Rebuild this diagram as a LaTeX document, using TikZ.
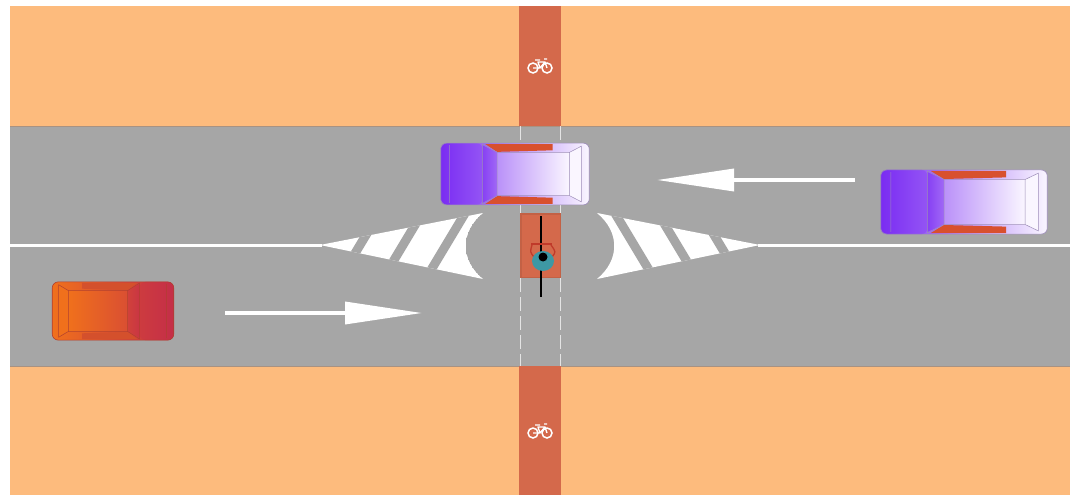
\documentclass[tikz,border=0pt]{standalone}
\usetikzlibrary{arrows.meta}
\definecolor{verge}{HTML}{FDBB7D}
\definecolor{asphalt}{HTML}{A6A6A6}
\definecolor{cyclelane}{HTML}{D4694B}
\definecolor{curbline}{HTML}{A89282}
\definecolor{violetA}{HTML}{7A2CF2}
\definecolor{violetB}{HTML}{FAF6FF}
\definecolor{violetC}{HTML}{D8502E}
\definecolor{violetD}{HTML}{9C8CB8}
\definecolor{redA}{HTML}{C42E48}
\definecolor{redB}{HTML}{F0701C}
\definecolor{redC}{HTML}{D4502C}
\definecolor{redD}{HTML}{B04030}
\definecolor{rider}{HTML}{3E98A4}
\definecolor{riderarm}{HTML}{C03A2A}
\tikzset{
  marking/.style={white, line width=3pt},
  flowarrow/.style={white, line width=3.5pt, -{Triangle[length=77pt,width=22pt]}},
  crossline/.style={white, opacity=.7, line width=0.9pt, dash pattern=on 14pt off 5pt},
  hatchgap/.style={asphalt, line width=9pt},
  carshade/.style={},
  % car seen from above, bonnet towards -x
  pics/car/.style n args={4}{code={
    \shade[left color=#1, right color=#2, carshade, rounded corners=6pt] (-75,-30) rectangle (75,30);
    \shade[left color=#1, right color=#1!80!#2, carshade, rounded corners=6pt] (-75,-30) -- (-33,-30) -- (-33,30) -- (-75,30) -- cycle;
    \shade[left color=#1!90!#2, right color=#1!70!#2, carshade] (-33,-28) -- (-18,-21) -- (-18,21) -- (-33,28) -- cycle;
    \shade[left color=#1!50!#2, right color=#2, carshade] (-18,-21) rectangle (55,21);
    \fill[#3] (-30,-29) -- (38,-29) -- (38,-23) -- (-18,-21.5) -- cycle;
    \fill[#3] (-30,29) -- (38,29) -- (38,23) -- (-18,21.5) -- cycle;
    \fill[#2] (55,-21) -- (67,-27) -- (67,27) -- (55,21) -- cycle;
    \draw[#4, line width=0.6pt, rounded corners=6pt] (-75,-30) rectangle (75,30);
    \draw[#4, line width=0.5pt] (-18,-21) rectangle (55,21)
      (-33,-29) -- (-18,-21) (-33,29) -- (-18,21)
      (-33,-29) -- (-33,29) (-66,-28) -- (-66,28)
      (55,-21) -- (67,-27) -- (67,27) -- (55,21);
  }},
  % white cycle symbol painted on the lane
  pics/bikesign/.style={code={
    \draw[white, line width=1.5pt] (-7,3) circle (5) (7,3) circle (5);
    \draw[white, line width=1.4pt, line join=round]
      (-7,3) -- (0,3) -- (-2,-3) -- (5,-3) -- (7,3)
      (0,3) -- (5,-3) (-5,-5) -- (0,-5) (4,-6) -- (7,-6);
  }}
}
\begin{document}
\begin{tikzpicture}[x=1pt,y=-1pt]
\useasboundingbox (0,0) rectangle (1070,495);
\fill[white] (0,0) rectangle (1070,495);

% verges, carriageway and cycle track
\fill[verge] (10,6) rectangle (1070,495);
\fill[asphalt] (10,126) rectangle (1070,366);
\draw[curbline, line width=1pt] (10,126) -- (1070,126) (10,366) -- (1070,366);
\fill[cyclelane] (519,6) rectangle (561,126);
\fill[cyclelane] (519,366) rectangle (561,495);
\pic at (540,65) {bikesign};
\pic at (540,430) {bikesign};

% crossing edges
\coordinate (xwNW) at (520,126); \coordinate (xwSW) at (520,366);
\coordinate (xwNE) at (560,126); \coordinate (xwSE) at (560,366);
\draw[crossline] (xwNW) -- (xwSW);
\draw[crossline] (xwNE) -- (xwSE);

% centre line
\coordinate (clW) at (10,245); \coordinate (clWend) at (322,245);
\coordinate (clE) at (1070,245); \coordinate (clEend) at (758,245);
\draw[marking] (clW) -- (clWend);
\draw[marking] (clE) -- (clEend);

% hatched refuge islands
\begin{scope}
  \clip (320,245) -- (483,213) .. controls (460,232) and (460,260) .. (483,279) -- cycle;
  \fill[white] (320,245) -- (483,213) .. controls (460,232) and (460,260) .. (483,279) -- cycle;
  \foreach \x in {360,403,446}
    \draw[hatchgap] (\x-30,295) -- (\x+30,195);
\end{scope}
\begin{scope}
  \clip (760,245) -- (597,213) .. controls (620,232) and (620,260) .. (597,279) -- cycle;
  \fill[white] (760,245) -- (597,213) .. controls (620,232) and (620,260) .. (597,279) -- cycle;
  \foreach \x in {720,677,634}
    \draw[hatchgap] (\x-30,195) -- (\x+30,295);
\end{scope}

% cyclist waiting in the middle
\fill[cyclelane!92!black] (520,213) rectangle (561,278);
\fill[cyclelane] (521.5,214.5) rectangle (559.5,276.5);
\draw[black, line width=1.6pt] (541,216) -- (541,297);
\draw[riderarm, line width=1.4pt] (531,244) -- (552,244);
\draw[riderarm, line width=1.3pt] (534,257) .. controls (530,252) .. (532,245)
                                   (552,257) .. controls (556,252) .. (551,245);
\fill[rider] (543,261) ellipse (11 and 10);
\fill[black] (543,257) circle (4.5);

% traffic direction arrows
\coordinate (eastTail) at (225,313); \coordinate (eastTip) at (422,313);
\coordinate (westTail) at (855,180); \coordinate (westTip) at (657,180);
\draw[flowarrow] (eastTail) -- (eastTip);
\draw[flowarrow] (westTail) -- (westTip);

% cars
\pic[xscale=0.99, yscale=1.03] at (515,174) {car={violetA}{violetB}{violetC}{violetD}};
\pic[xscale=1.11, yscale=1.07] at (964,202) {car={violetA}{violetB}{violetC}{violetD}};
\pic[xscale=-0.81, yscale=0.97, carshade/.style={shading angle=270}] at (113,311)
  {car={redA}{redB}{redC}{redD}};
\end{tikzpicture}
\end{document}
